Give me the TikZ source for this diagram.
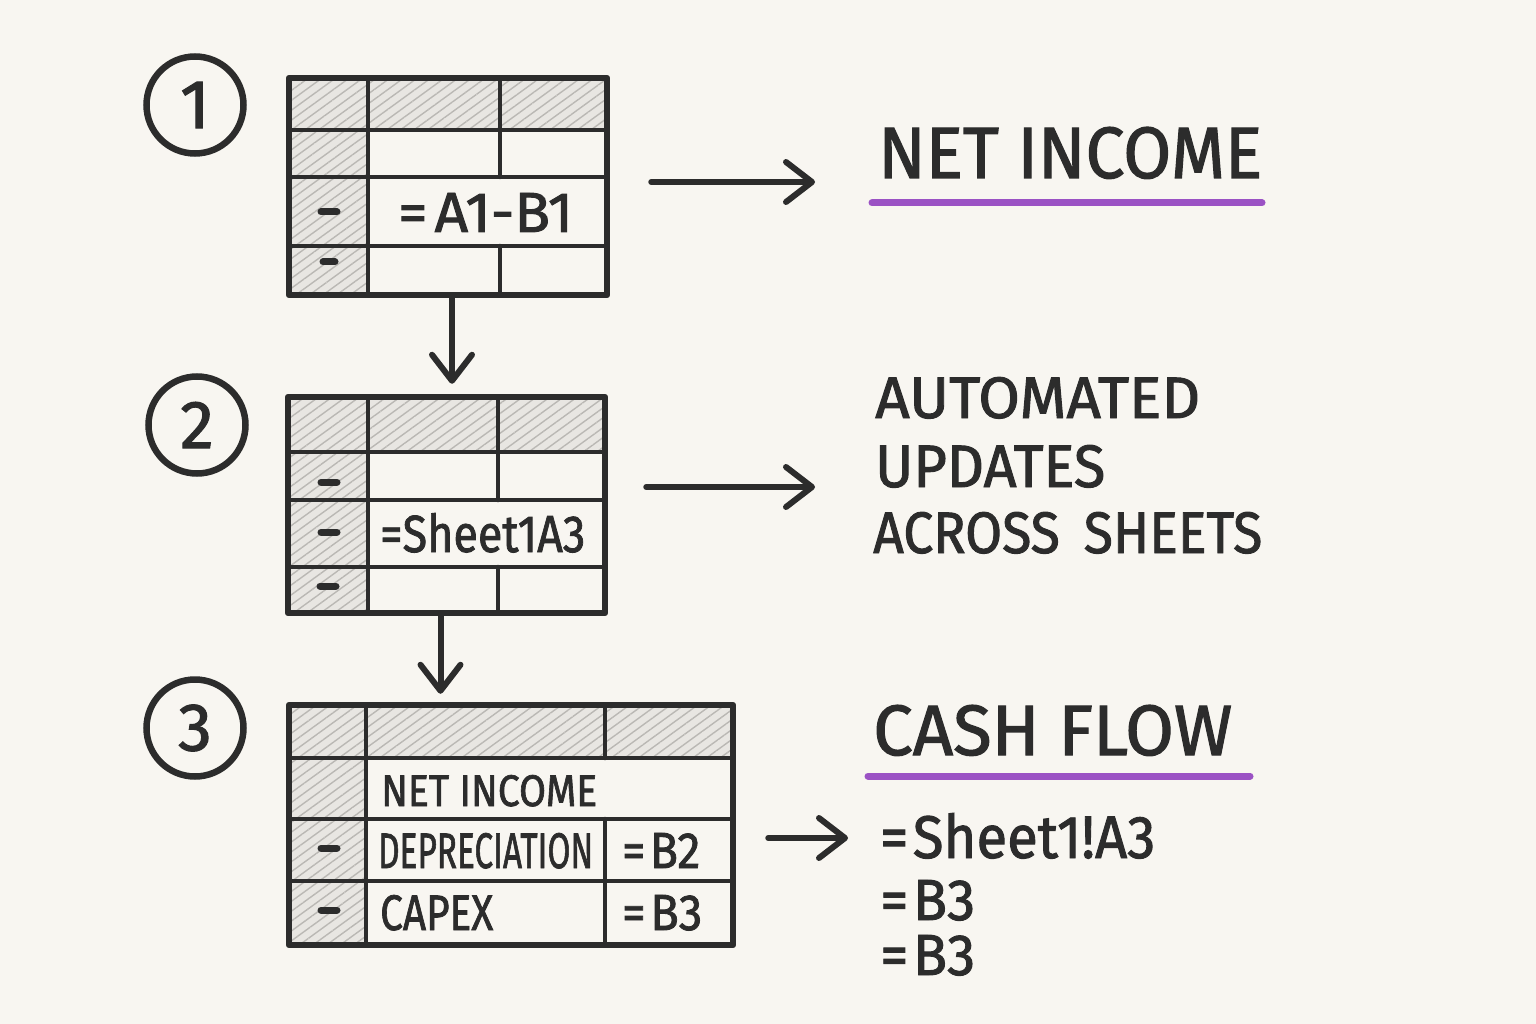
\documentclass[tikz,border=0pt]{standalone}
\usepackage{graphicx}
\usepackage{fontspec}
\setmainfont{Fira Sans}[FakeBold=1.6]
\usetikzlibrary{arrows.meta,patterns.meta}
\definecolor{bg}{HTML}{F8F6F1}
\definecolor{ink}{HTML}{2C2C2C}
\definecolor{hatchbg}{HTML}{E8E6E2}
\definecolor{hatchln}{HTML}{BAB8B4}
\definecolor{markp}{HTML}{9B52C4}
\newcommand\fitt[3]{\resizebox{#1pt}{#2pt}{#3}}
\begin{document}
\begin{tikzpicture}[x=1pt,y=-1pt,
  tbl/.style={draw=ink,line width=6.5,rectangle,inner sep=0,line join=round},
  grid/.style={draw=ink,line width=4.5,line cap=round},
  hatch/.style={fill=hatchbg,postaction={pattern={Lines[angle=36,distance=8pt,line width=1.4pt]},pattern color=hatchln}},
  txt/.style={anchor=base west,inner sep=0,text=ink},
  dashmark/.style={draw=ink,line width=7,line cap=round},
  circ/.style={draw=ink,circle,line width=6.5,minimum size=97,inner sep=0,text=ink},
  arr/.style={draw=ink,line width=6,line cap=round,-{Straight Barb[length=26pt,width=40pt,line join=round,line cap=round]}},
  uline/.style={draw=markp,line width=7,line cap=round}]
\fill[bg] (0,0) rectangle (1536,1024);
\useasboundingbox (0,0) rectangle (1536,1024);

% ---------- Table 1 ----------
\fill[hatch] (289,78) rectangle (607,130);
\fill[hatch] (289,130) rectangle (368,295);
\draw[grid] (289,130) -- (607,130) (289,177) -- (607,177) (289,246) -- (607,246);
\draw[grid] (368,78) -- (368,295) (500,78) -- (500,177) (500,246) -- (500,295);
\node[tbl,minimum width=318,minimum height=217] (t1) at (448,186.5) {};
\draw[dashmark] (321,212) -- (337,212);
\draw[dashmark] (323,262) -- (335,262);
\node[txt] (f1) at (398,232) {\fitt{175}{39}{=\hspace{0.12em}A1-B1}};

% ---------- Table 2 ----------
\fill[hatch] (288,397) rectangle (605,452);
\fill[hatch] (288,452) rectangle (368,613);
\draw[grid] (288,452) -- (605,452) (288,500) -- (605,500) (288,567) -- (605,567);
\draw[grid] (368,397) -- (368,613) (498,397) -- (498,500) (498,567) -- (498,613);
\node[tbl,minimum width=317,minimum height=216] (t2) at (446.5,505) {};
\draw[dashmark] (321,482) -- (337,482);
\draw[dashmark] (321,532) -- (337,532);
\draw[dashmark] (320,586) -- (336,586);
\node[txt] (f2) at (380,552) {\fitt{205}{39}{=Sheet1A3}};

% ---------- Table 3 ----------
\fill[hatch] (289,705) rectangle (733,758);
\fill[hatch] (289,758) rectangle (366,945);
\draw[grid] (289,758) -- (733,758) (289,819) -- (733,819) (289,881) -- (733,881);
\draw[grid] (366,705) -- (366,945) (605,705) -- (605,758) (605,819) -- (605,945);
\node[tbl,minimum width=444,minimum height=240] (t3) at (511,825) {};
\draw[dashmark] (321,848) -- (337,848);
\draw[dashmark] (321,910) -- (337,910);
\node[txt] (r1) at (381,806) {\fitt{216}{31}{NET INCOME}};
\node[txt] (r2) at (378,868) {\fitt{215}{35}{DEPRECIATION}};
\node[txt] (r3) at (380,930) {\fitt{113}{35}{CAPEX}};
\node[txt] (v2) at (622,868) {\fitt{78}{35}{=\hspace{0.1em}B2}};
\node[txt] (v3) at (622,930) {\fitt{80}{35}{=\hspace{0.1em}B3}};

% ---------- Circled numbers ----------
\node[circ] (c1) at (195,105) {\resizebox{!}{46pt}{1}};
\node[circ] (c2) at (197,425) {\resizebox{!}{46pt}{2}};
\node[circ] (c3) at (195,728) {\resizebox{!}{46pt}{3}};

% ---------- Right labels ----------
\node[txt] (l1) at (878,178) {\fitt{384}{51}{NET INCOME}};
\draw[uline] (872,203) -- (1262,203);
\node[txt] (l2a) at (875,418) {\fitt{325}{41}{AUTOMATED}};
\node[txt] (l2b) at (875,487) {\fitt{230}{42}{UPDATES}};
\node[txt] (l2c) at (873,553) {\fitt{389}{41}{ACROSS\hspace{0.45em}SHEETS}};
\node[txt] (l3) at (873,755) {\fitt{359}{50}{CASH FLOW}};
\draw[uline] (868,776) -- (1250,776);
\node[txt] (l3a) at (880,858) {\fitt{275}{45}{=\hspace{0.08em}Sheet1!A3}};
\node[txt] (l3b) at (880,920) {\fitt{95}{40}{=\hspace{0.08em}B3}};
\node[txt] (l3c) at (880,975) {\fitt{95}{40}{=\hspace{0.08em}B3}};

% ---------- Connectors ----------
\coordinate (a1) at (815,182);
\coordinate (a2) at (815,487);
\coordinate (a3) at (848,838);
\draw[arr] ([xshift=41]t1.east |- a1) -- (a1);
\draw[arr] ([xshift=38]t2.east |- a2) -- (a2);
\draw[arr] ([xshift=32]t3.east |- a3) -- (a3);
\draw[arr,shorten >=10] ([xshift=4]t1.south) -- ([xshift=4]t1.south |- t2.north);
\draw[arr,shorten >=8] ([xshift=-6]t2.south) -- ([xshift=-6]t2.south |- t3.north);
\end{tikzpicture}
\end{document}
